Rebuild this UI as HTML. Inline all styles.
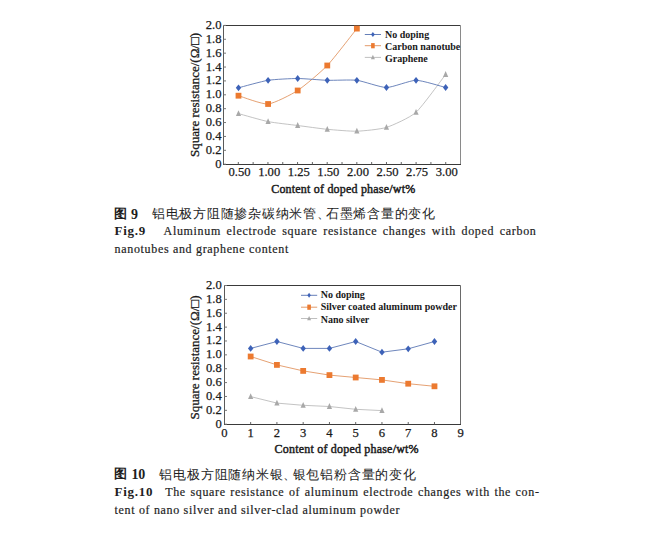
<!DOCTYPE html>
<html><head><meta charset="utf-8">
<style>
html,body{margin:0;padding:0;background:#fff;}
body{width:668px;height:533px;position:relative;overflow:hidden;font-family:"Liberation Serif",serif;color:#231f20;}
svg{position:absolute;left:0;top:0;}
.tk{font-family:"Liberation Serif",serif;font-size:12.6px;fill:#1a1a1a;stroke:#1a1a1a;stroke-width:0.25px;}
.lg{font-family:"Liberation Serif",serif;font-size:10px;font-weight:bold;fill:#1a1a1a;}
.ax{font-family:"Liberation Serif",serif;font-size:12px;letter-spacing:0.2px;fill:#1a1a1a;stroke:#1a1a1a;stroke-width:0.45px;}
.yl{font-family:"Liberation Serif",serif;font-size:13px;fill:#1a1a1a;stroke:#1a1a1a;stroke-width:0.3px;}
.p{position:absolute;white-space:nowrap;font-size:12px;line-height:14px;color:#1e1e1e;}
.cj{font-size:12px;font-weight:300;}
.en{letter-spacing:0.67px;-webkit-text-stroke:0.2px #1e1e1e;}
.b{font-weight:bold;}
</style></head><body>
<svg width="668" height="533" viewBox="0 0 668 533">
<path d="M223.5,25.5 L460.5,25.5" stroke="#3a3a3a" stroke-width="1.1"/>
<path d="M460.5,25.5 L460.5,164.5" stroke="#8a8a8a" stroke-width="1"/>
<path d="M223.5,25.5 L223.5,164.5" stroke="#5a5a5a" stroke-width="1"/>
<path d="M223.0,164.5 L461.0,164.5" stroke="#3a3a3a" stroke-width="1.1"/>
<path d="M223.5,164.20 L226.0,164.20" stroke="#777" stroke-width="1"/>
<text x="221.5" y="167.70" text-anchor="end" class="tk">0</text>
<path d="M223.5,150.32 L226.0,150.32" stroke="#777" stroke-width="1"/>
<text x="221.5" y="153.82" text-anchor="end" class="tk">0.2</text>
<path d="M223.5,136.44 L226.0,136.44" stroke="#777" stroke-width="1"/>
<text x="221.5" y="139.94" text-anchor="end" class="tk">0.4</text>
<path d="M223.5,122.56 L226.0,122.56" stroke="#777" stroke-width="1"/>
<text x="221.5" y="126.06" text-anchor="end" class="tk">0.6</text>
<path d="M223.5,108.68 L226.0,108.68" stroke="#777" stroke-width="1"/>
<text x="221.5" y="112.18" text-anchor="end" class="tk">0.8</text>
<path d="M223.5,94.80 L226.0,94.80" stroke="#777" stroke-width="1"/>
<text x="221.5" y="98.30" text-anchor="end" class="tk">1.0</text>
<path d="M223.5,80.92 L226.0,80.92" stroke="#777" stroke-width="1"/>
<text x="221.5" y="84.42" text-anchor="end" class="tk">1.2</text>
<path d="M223.5,67.04 L226.0,67.04" stroke="#777" stroke-width="1"/>
<text x="221.5" y="70.54" text-anchor="end" class="tk">1.4</text>
<path d="M223.5,53.16 L226.0,53.16" stroke="#777" stroke-width="1"/>
<text x="221.5" y="56.66" text-anchor="end" class="tk">1.6</text>
<path d="M223.5,39.28 L226.0,39.28" stroke="#777" stroke-width="1"/>
<text x="221.5" y="42.78" text-anchor="end" class="tk">1.8</text>
<path d="M223.5,25.40 L226.0,25.40" stroke="#777" stroke-width="1"/>
<text x="221.5" y="28.90" text-anchor="end" class="tk">2.0</text>
<path d="M238.31,164.5 L238.31,162.0" stroke="#555" stroke-width="0.9"/>
<path d="M253.13,164.5 L253.13,162.0" stroke="#555" stroke-width="0.9"/>
<path d="M267.94,164.5 L267.94,162.0" stroke="#555" stroke-width="0.9"/>
<path d="M282.76,164.5 L282.76,162.0" stroke="#555" stroke-width="0.9"/>
<path d="M297.57,164.5 L297.57,162.0" stroke="#555" stroke-width="0.9"/>
<path d="M312.39,164.5 L312.39,162.0" stroke="#555" stroke-width="0.9"/>
<path d="M327.20,164.5 L327.20,162.0" stroke="#555" stroke-width="0.9"/>
<path d="M342.02,164.5 L342.02,162.0" stroke="#555" stroke-width="0.9"/>
<path d="M356.84,164.5 L356.84,162.0" stroke="#555" stroke-width="0.9"/>
<path d="M371.65,164.5 L371.65,162.0" stroke="#555" stroke-width="0.9"/>
<path d="M386.47,164.5 L386.47,162.0" stroke="#555" stroke-width="0.9"/>
<path d="M401.28,164.5 L401.28,162.0" stroke="#555" stroke-width="0.9"/>
<path d="M416.10,164.5 L416.10,162.0" stroke="#555" stroke-width="0.9"/>
<path d="M430.91,164.5 L430.91,162.0" stroke="#555" stroke-width="0.9"/>
<path d="M445.73,164.5 L445.73,162.0" stroke="#555" stroke-width="0.9"/>
<text x="239.60" y="176.4" text-anchor="middle" class="tk">0.50</text>
<text x="269.19" y="176.4" text-anchor="middle" class="tk">1.00</text>
<text x="298.78" y="176.4" text-anchor="middle" class="tk">1.25</text>
<text x="328.37" y="176.4" text-anchor="middle" class="tk">1.50</text>
<text x="357.96" y="176.4" text-anchor="middle" class="tk">2.00</text>
<text x="387.55" y="176.4" text-anchor="middle" class="tk">2.50</text>
<text x="417.14" y="176.4" text-anchor="middle" class="tk">2.75</text>
<text x="446.73" y="176.4" text-anchor="middle" class="tk">3.00</text>
<path d="M238.50,113.60 C241.46,114.40 262.17,120.41 268.09,121.60 C274.01,122.79 291.76,124.73 297.68,125.50 C303.60,126.27 321.35,128.73 327.27,129.30 C333.19,129.87 350.94,131.39 356.86,131.20 C362.78,131.01 380.53,129.29 386.45,127.40 C392.37,125.51 410.12,117.59 416.04,112.30 C421.96,107.01 442.67,78.28 445.63,74.50" stroke="#b8b8b8" stroke-width="0.85" fill="none"/>
<path d="M238.50,95.70 C241.46,96.53 262.17,104.52 268.09,104.00 C274.01,103.48 291.76,94.35 297.68,90.50 C303.60,86.65 321.35,71.69 327.27,65.50 C333.19,59.31 353.90,32.29 356.86,28.60" stroke="#e0905a" stroke-width="0.85" fill="none"/>
<path d="M238.50,87.80 C241.46,87.05 262.17,81.23 268.09,80.30 C274.01,79.37 291.76,78.50 297.68,78.50 C303.60,78.50 321.35,80.12 327.27,80.30 C333.19,80.48 350.94,79.58 356.86,80.30 C362.78,81.02 380.53,87.50 386.45,87.50 C392.37,87.50 410.12,80.30 416.04,80.30 C421.96,80.30 442.67,86.78 445.63,87.50" stroke="#5470b0" stroke-width="0.85" fill="none"/>
<path d="M238.50,110.20 L241.10,115.98 L235.90,115.98Z" fill="#a8a8a8"/>
<path d="M268.09,118.20 L270.69,123.98 L265.49,123.98Z" fill="#a8a8a8"/>
<path d="M297.68,122.10 L300.28,127.88 L295.08,127.88Z" fill="#a8a8a8"/>
<path d="M327.27,125.90 L329.87,131.68 L324.67,131.68Z" fill="#a8a8a8"/>
<path d="M356.86,127.80 L359.46,133.58 L354.26,133.58Z" fill="#a8a8a8"/>
<path d="M386.45,124.00 L389.05,129.78 L383.85,129.78Z" fill="#a8a8a8"/>
<path d="M416.04,108.90 L418.64,114.68 L413.44,114.68Z" fill="#a8a8a8"/>
<path d="M445.63,71.10 L448.23,76.88 L443.03,76.88Z" fill="#a8a8a8"/>
<rect x="235.60" y="92.80" width="5.80" height="5.80" fill="#ec7a30"/>
<rect x="265.19" y="101.10" width="5.80" height="5.80" fill="#ec7a30"/>
<rect x="294.78" y="87.60" width="5.80" height="5.80" fill="#ec7a30"/>
<rect x="324.37" y="62.60" width="5.80" height="5.80" fill="#ec7a30"/>
<rect x="353.96" y="25.70" width="5.80" height="5.80" fill="#ec7a30"/>
<path d="M238.50,84.40 L241.20,87.80 L238.50,91.20 L235.80,87.80Z" fill="#3d62b8"/>
<path d="M268.09,76.90 L270.79,80.30 L268.09,83.70 L265.39,80.30Z" fill="#3d62b8"/>
<path d="M297.68,75.10 L300.38,78.50 L297.68,81.90 L294.98,78.50Z" fill="#3d62b8"/>
<path d="M327.27,76.90 L329.97,80.30 L327.27,83.70 L324.57,80.30Z" fill="#3d62b8"/>
<path d="M356.86,76.90 L359.56,80.30 L356.86,83.70 L354.16,80.30Z" fill="#3d62b8"/>
<path d="M386.45,84.10 L389.15,87.50 L386.45,90.90 L383.75,87.50Z" fill="#3d62b8"/>
<path d="M416.04,76.90 L418.74,80.30 L416.04,83.70 L413.34,80.30Z" fill="#3d62b8"/>
<path d="M445.63,84.10 L448.33,87.50 L445.63,90.90 L442.93,87.50Z" fill="#3d62b8"/>
<path d="M364.8,34.5 L381,34.5" stroke="#5470b0" stroke-width="0.9"/>
<path d="M372.90,31.90 L374.80,34.50 L372.90,37.10 L371.00,34.50Z" fill="#3d62b8"/>
<text x="385" y="37.8" class="lg">No doping</text>
<path d="M364.8,45.7 L381,45.7" stroke="#e0905a" stroke-width="0.9"/>
<rect x="371.1" y="43.10" width="3.6" height="5.2" fill="#ec7a30"/>
<text x="385" y="49.6" class="lg">Carbon nanotube</text>
<path d="M364.8,57.4 L381,57.4" stroke="#b8b8b8" stroke-width="0.9"/>
<path d="M372.90,54.80 L374.90,59.22 L370.90,59.22Z" fill="#a8a8a8"/>
<text x="385" y="61.5" class="lg">Graphene</text>
<text x="343.3" y="193.3" text-anchor="middle" class="ax">Content of doped phase/wt%</text>
<text transform="translate(199.0,94.9) rotate(-90)" text-anchor="middle" class="yl">Square resistance/(Ω/□)</text>
<path d="M224.5,285.5 L460.5,285.5" stroke="#3a3a3a" stroke-width="1.1"/>
<path d="M460.5,285.5 L460.5,424.5" stroke="#6a6a6a" stroke-width="1"/>
<path d="M224.5,285.5 L224.5,424.5" stroke="#5a5a5a" stroke-width="1"/>
<path d="M224.0,424.5 L461.0,424.5" stroke="#3a3a3a" stroke-width="1.1"/>
<path d="M224.5,424.20 L227.0,424.20" stroke="#777" stroke-width="1"/>
<text x="221.8" y="427.70" text-anchor="end" class="tk">0</text>
<path d="M224.5,410.33 L227.0,410.33" stroke="#777" stroke-width="1"/>
<text x="221.8" y="413.83" text-anchor="end" class="tk">0.2</text>
<path d="M224.5,396.46 L227.0,396.46" stroke="#777" stroke-width="1"/>
<text x="221.8" y="399.96" text-anchor="end" class="tk">0.4</text>
<path d="M224.5,382.59 L227.0,382.59" stroke="#777" stroke-width="1"/>
<text x="221.8" y="386.09" text-anchor="end" class="tk">0.6</text>
<path d="M224.5,368.72 L227.0,368.72" stroke="#777" stroke-width="1"/>
<text x="221.8" y="372.22" text-anchor="end" class="tk">0.8</text>
<path d="M224.5,354.85 L227.0,354.85" stroke="#777" stroke-width="1"/>
<text x="221.8" y="358.35" text-anchor="end" class="tk">1.0</text>
<path d="M224.5,340.98 L227.0,340.98" stroke="#777" stroke-width="1"/>
<text x="221.8" y="344.48" text-anchor="end" class="tk">1.2</text>
<path d="M224.5,327.11 L227.0,327.11" stroke="#777" stroke-width="1"/>
<text x="221.8" y="330.61" text-anchor="end" class="tk">1.4</text>
<path d="M224.5,313.24 L227.0,313.24" stroke="#777" stroke-width="1"/>
<text x="221.8" y="316.74" text-anchor="end" class="tk">1.6</text>
<path d="M224.5,299.37 L227.0,299.37" stroke="#777" stroke-width="1"/>
<text x="221.8" y="302.87" text-anchor="end" class="tk">1.8</text>
<path d="M224.5,285.50 L227.0,285.50" stroke="#777" stroke-width="1"/>
<text x="221.8" y="289.00" text-anchor="end" class="tk">2.0</text>
<path d="M250.66,424.5 L250.66,422.0" stroke="#555" stroke-width="0.9"/>
<path d="M276.92,424.5 L276.92,422.0" stroke="#555" stroke-width="0.9"/>
<path d="M303.18,424.5 L303.18,422.0" stroke="#555" stroke-width="0.9"/>
<path d="M329.44,424.5 L329.44,422.0" stroke="#555" stroke-width="0.9"/>
<path d="M355.70,424.5 L355.70,422.0" stroke="#555" stroke-width="0.9"/>
<path d="M381.96,424.5 L381.96,422.0" stroke="#555" stroke-width="0.9"/>
<path d="M408.22,424.5 L408.22,422.0" stroke="#555" stroke-width="0.9"/>
<path d="M434.48,424.5 L434.48,422.0" stroke="#555" stroke-width="0.9"/>
<text x="224.40" y="437.2" text-anchor="middle" class="tk">0</text>
<text x="250.66" y="437.2" text-anchor="middle" class="tk">1</text>
<text x="276.92" y="437.2" text-anchor="middle" class="tk">2</text>
<text x="303.18" y="437.2" text-anchor="middle" class="tk">3</text>
<text x="329.44" y="437.2" text-anchor="middle" class="tk">4</text>
<text x="355.70" y="437.2" text-anchor="middle" class="tk">5</text>
<text x="381.96" y="437.2" text-anchor="middle" class="tk">6</text>
<text x="408.22" y="437.2" text-anchor="middle" class="tk">7</text>
<text x="434.48" y="437.2" text-anchor="middle" class="tk">8</text>
<text x="460.74" y="437.2" text-anchor="middle" class="tk">9</text>
<path d="M250.66,396.60 L276.92,403.10 L303.18,405.30 L329.44,406.50 L355.70,409.30 L381.96,410.60" stroke="#b8b8b8" stroke-width="0.85" fill="none"/>
<path d="M250.66,356.50 L276.92,364.90 L303.18,370.90 L329.44,375.10 L355.70,377.50 L381.96,379.90 L408.22,383.70 L434.48,386.30" stroke="#e0905a" stroke-width="0.85" fill="none"/>
<path d="M250.66,348.40 L276.92,341.50 L303.18,348.40 L329.44,348.40 L355.70,341.50 L381.96,352.20 L408.22,348.80 L434.48,341.50" stroke="#5470b0" stroke-width="0.85" fill="none"/>
<path d="M250.66,393.20 L253.26,398.98 L248.06,398.98Z" fill="#a8a8a8"/>
<path d="M276.92,399.70 L279.52,405.48 L274.32,405.48Z" fill="#a8a8a8"/>
<path d="M303.18,401.90 L305.78,407.68 L300.58,407.68Z" fill="#a8a8a8"/>
<path d="M329.44,403.10 L332.04,408.88 L326.84,408.88Z" fill="#a8a8a8"/>
<path d="M355.70,405.90 L358.30,411.68 L353.10,411.68Z" fill="#a8a8a8"/>
<path d="M381.96,407.20 L384.56,412.98 L379.36,412.98Z" fill="#a8a8a8"/>
<rect x="247.76" y="353.60" width="5.80" height="5.80" fill="#ec7a30"/>
<rect x="274.02" y="362.00" width="5.80" height="5.80" fill="#ec7a30"/>
<rect x="300.28" y="368.00" width="5.80" height="5.80" fill="#ec7a30"/>
<rect x="326.54" y="372.20" width="5.80" height="5.80" fill="#ec7a30"/>
<rect x="352.80" y="374.60" width="5.80" height="5.80" fill="#ec7a30"/>
<rect x="379.06" y="377.00" width="5.80" height="5.80" fill="#ec7a30"/>
<rect x="405.32" y="380.80" width="5.80" height="5.80" fill="#ec7a30"/>
<rect x="431.58" y="383.40" width="5.80" height="5.80" fill="#ec7a30"/>
<path d="M250.66,345.00 L253.36,348.40 L250.66,351.80 L247.96,348.40Z" fill="#3d62b8"/>
<path d="M276.92,338.10 L279.62,341.50 L276.92,344.90 L274.22,341.50Z" fill="#3d62b8"/>
<path d="M303.18,345.00 L305.88,348.40 L303.18,351.80 L300.48,348.40Z" fill="#3d62b8"/>
<path d="M329.44,345.00 L332.14,348.40 L329.44,351.80 L326.74,348.40Z" fill="#3d62b8"/>
<path d="M355.70,338.10 L358.40,341.50 L355.70,344.90 L353.00,341.50Z" fill="#3d62b8"/>
<path d="M381.96,348.80 L384.66,352.20 L381.96,355.60 L379.26,352.20Z" fill="#3d62b8"/>
<path d="M408.22,345.40 L410.92,348.80 L408.22,352.20 L405.52,348.80Z" fill="#3d62b8"/>
<path d="M434.48,338.10 L437.18,341.50 L434.48,344.90 L431.78,341.50Z" fill="#3d62b8"/>
<path d="M301,295.3 L317.2,295.3" stroke="#5470b0" stroke-width="0.9"/>
<path d="M309.10,292.80 L310.80,295.30 L309.10,297.80 L307.40,295.30Z" fill="#3d62b8"/>
<text x="320.7" y="298.1" class="lg">No doping</text>
<path d="M301,307.2 L317.2,307.2" stroke="#e0905a" stroke-width="0.9"/>
<rect x="307.3" y="304.60" width="3.6" height="5.2" fill="#ec7a30"/>
<text x="320.7" y="310.0" class="lg">Silver coated aluminum powder</text>
<path d="M301,318.5 L317.2,318.5" stroke="#b8b8b8" stroke-width="0.9"/>
<path d="M309.10,315.90 L311.10,320.32 L307.10,320.32Z" fill="#a8a8a8"/>
<text x="320.7" y="322.9" class="lg">Nano silver</text>
<text x="346.7" y="452.8" text-anchor="middle" class="ax">Content of doped phase/wt%</text>
<text transform="translate(199.0,357.5) rotate(-90)" text-anchor="middle" class="yl">Square resistance/(Ω/□)</text>
</svg>
<div class="p cj" style="left:114.0px;top:206.8px;font-weight:bold;font-size:13px;">图</div>
<div class="p b" style="left:131.1px;top:207.5px;font-size:14px;">9</div>
<div class="p cj" style="left:152.0px;top:207.3px;letter-spacing:0.73px;font-size:13px;">铝电极方阻随掺杂碳纳米管<span style="margin-right:-4.5px">、</span>石墨烯含量的变化</div>
<div class="p b" style="left:114.6px;top:223.5px;font-size:13px;letter-spacing:0.7px;">Fig.9</div>
<div class="p en" style="left:163.6px;top:224px;word-spacing:1.97px;">Aluminum electrode square resistance changes with doped carbon</div>
<div class="p en" style="left:114.6px;top:242px;">nanotubes and graphene content</div>

<div class="p cj" style="left:114.0px;top:467.3px;font-weight:bold;font-size:13px;">图</div>
<div class="p b" style="left:131.4px;top:467.5px;font-size:14px;letter-spacing:-0.1px;">10</div>
<div class="p cj" style="left:159.4px;top:467.8px;letter-spacing:0.78px;font-size:13px;">铝电极方阻随纳米银<span style="margin-right:-4.5px">、</span>银包铝粉含量的变化</div>
<div class="p b" style="left:114.6px;top:484.5px;font-size:13px;letter-spacing:0.7px;">Fig.10</div>
<div class="p en" style="left:165.2px;top:485px;word-spacing:0.89px;">The square resistance of aluminum electrode changes with the con-</div>
<div class="p en" style="left:114.6px;top:503px;">tent of nano silver and silver-clad aluminum powder</div>
</body></html>
